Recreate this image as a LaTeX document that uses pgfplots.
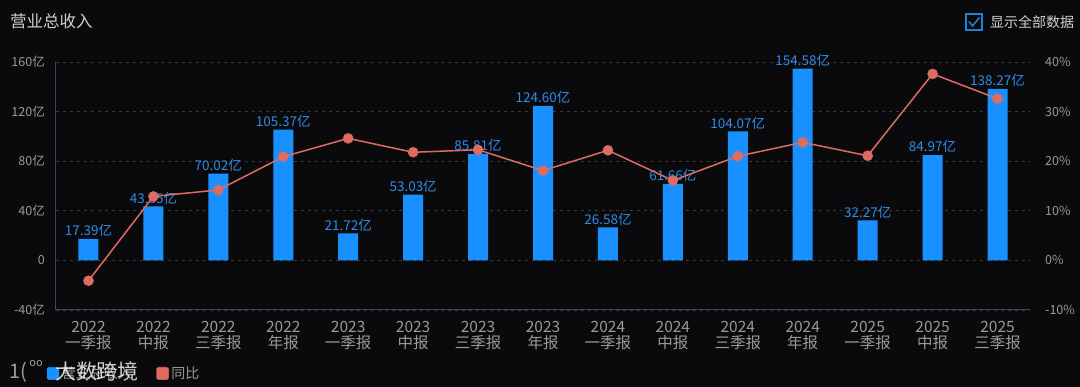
\documentclass[border=0pt]{standalone}
\usepackage{fontspec}
\setmainfont{Noto Sans CJK SC}
\usepackage{pgfplots}
\pgfplotsset{compat=1.18}
\definecolor{bg}{HTML}{0A0A0C}
\definecolor{barblue}{HTML}{1890FF}
\definecolor{lblblue}{HTML}{2F8BE6}
\definecolor{linered}{HTML}{DD6B62}
\definecolor{tickgray}{HTML}{9A9A9A}
\definecolor{titlegray}{HTML}{D0D0D0}
\definecolor{gridgray}{HTML}{3A3A3A}
\definecolor{axisline}{HTML}{3A4656}
\definecolor{chkblue}{HTML}{1F7FD0}

\pgfplotstableread{
x rev
0 17.39
1 43.65
2 70.02
3 105.37
4 21.72
5 53.03
6 85.81
7 124.60
8 26.58
9 61.66
10 104.07
11 154.58
12 32.27
13 84.97
14 138.27
}\revtable

\pgfplotstableread{
x yoy
0 -4.1
1 12.9
2 14.2
3 20.9
4 24.6
5 21.8
6 22.3
7 18.1
8 22.2
9 16.1
10 21.0
11 23.8
12 21.1
13 37.6
14 32.6
}\yoytable

\begin{document}
\begin{tikzpicture}[x=1pt,y=1pt]
\fill[bg] (0,0) rectangle (1080,387);
\useasboundingbox (0,0) rectangle (1080,387);

\node[anchor=west, text=titlegray, inner sep=0pt, font=\fontsize{16.5}{19}\selectfont] at (10,366) {营业总收入};
\draw[chkblue, line width=1.3pt] (966,357) rectangle (982,373);
\draw[chkblue, line width=1.6pt] (969,365.5) -- (972.5,361) -- (979.5,369.5);
\node[anchor=west, text=titlegray, inner sep=0pt, font=\fontsize{14}{16}\selectfont] at (990,365) {显示全部数据};

\begin{axis}[
  at={(56pt,77pt)}, anchor=south west,
  scale only axis, width=974pt, height=248pt,
  xmin=-0.5, xmax=14.5, ymin=-40, ymax=160,
  xtick={0,...,14},
  xticklabels={{2022\\一季报},{2022\\中报},{2022\\三季报},{2022\\年报},{2023\\一季报},{2023\\中报},{2023\\三季报},{2023\\年报},{2024\\一季报},{2024\\中报},{2024\\三季报},{2024\\年报},{2025\\一季报},{2025\\中报},{2025\\三季报}},
  xticklabel style={align=center, text=tickgray, font=\fontsize{15.5}{16}\selectfont, inner sep=0pt, yshift=-11pt},
  ytick={-40,0,40,80,120,160},
  yticklabels={-40亿,0,40亿,80亿,120亿,160亿},
  yticklabel style={text=tickgray, font=\fontsize{12.5}{14}\selectfont, inner sep=0pt, xshift=-11pt},
  major tick length=0pt,
  axis x line*=bottom, axis y line*=left,
  axis line style={-, axisline, line width=1pt},
  ymajorgrids, grid style={gridgray, dash pattern=on 3pt off 4pt, line width=0.8pt},
  /pgf/number format/assume math mode=true,
  clip=false,
]
\addplot[ybar, bar width=20pt, fill=barblue, draw=none,
  nodes near coords={\pgfmathprintnumber[fixed,fixed zerofill,precision=2,assume math mode=true]{\pgfplotspointmeta}亿},
  every node near coord/.style={text=lblblue, font=\fontsize{13.5}{15}\selectfont, inner sep=2pt, anchor=south}
] table[x=x,y=rev] {\revtable};
\end{axis}

\begin{axis}[
  at={(56pt,77pt)}, anchor=south west,
  scale only axis, width=974pt, height=248pt,
  xmin=-0.5, xmax=14.5, ymin=-10, ymax=40,
  axis x line=none, axis y line*=right,
  y axis line style={draw=none},
  ytick={-10,0,10,20,30,40},
  yticklabels={-10\%,0\%,10\%,20\%,30\%,40\%},
  yticklabel style={text=tickgray, font=\fontsize{12.5}{14}\selectfont, inner sep=0pt, anchor=west, xshift=15pt},
  major tick length=0pt,
  clip=false,
  legend style={at={(-0.01,-0.256)}, anchor=west, legend columns=2, draw=none, fill=none,
    text=tickgray, font=\fontsize{14}{16}\selectfont, inner sep=0pt,
    /tikz/every even column/.append style={column sep=22pt}},
  legend image code/.code={\fill[#1, rounded corners=2pt] (0pt,-6.5pt) rectangle (13pt,6.5pt);},
]
\addlegendimage{fill=barblue}
\addlegendentry{营业总收入}
\addlegendimage{fill=linered}
\addlegendentry{同比}
\addplot[linered, line width=1.5pt, mark=*, mark size=4.5pt, mark options={fill=linered, draw=none}, forget plot]
  table[x=x,y=yoy] {\yoytable};
\end{axis}

\node[text=white, opacity=0.8, inner sep=0pt, font=\fontsize{21}{22}\selectfont] at (97,15) {大数跨境};
\node[text=white, opacity=0.6, inner sep=0pt, font=\fontsize{20}{22}\selectfont] at (18,15) {1(};
\node[text=white, opacity=0.6, inner sep=0pt, font=\fontsize{11}{12}\selectfont] at (36,23) {oo};
\end{tikzpicture}
\end{document}
